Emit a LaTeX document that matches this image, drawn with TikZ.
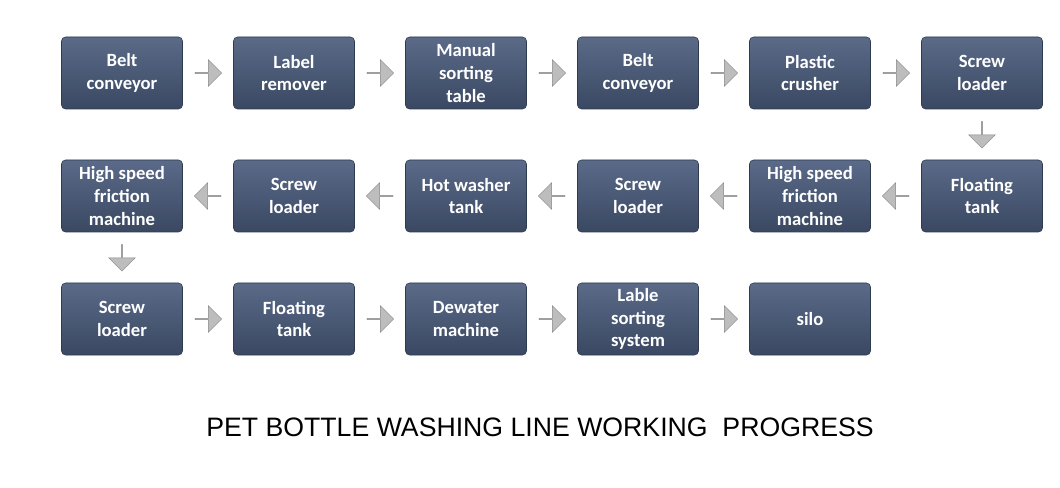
\documentclass[tikz,border=0pt]{standalone}
\usepackage{fontspec}
\setmainfont{Carlito}
\newfontfamily\titlefont{Liberation Sans}
\usetikzlibrary{shapes.arrows}
\definecolor{boxtop}{HTML}{5A6A88}
\definecolor{boxbot}{HTML}{3A4862}
\definecolor{arr}{HTML}{BDBDBD}
\tikzset{
 stepbox/.style={rounded corners=3pt, minimum width=121*0.75pt, minimum height=72*0.75pt,
   top color=boxtop, bottom color=boxbot, draw=boxbot!80!black, text=white,
   font=\bfseries\fontsize{14}{17}\selectfont, align=center, inner sep=1pt},
 flow/.style={single arrow, fill=arr, draw=arr!70!black, line width=0.3pt, minimum height=20pt, minimum width=20pt, single arrow head extend=3pt, inner sep=0pt}
}
\begin{document}
\begin{tikzpicture}[x=0.75pt,y=-0.75pt]
\useasboundingbox (0,0) rectangle (1060,488);
\foreach \n/\x/\y/\t in {a/122/73/{Belt\\conveyor}, b/294/73/{Label\\remover}, c/466/73/{Manual\\sorting\\table}, d/638/73/{Belt\\conveyor}, e/810/73/{Plastic\\crusher}, f/982/73/{Screw\\loader},
 g/982/196/{Floating\\tank}, h/810/196/{High speed\\friction\\machine}, i/638/196/{Screw\\loader}, j/466/196/{Hot washer\\tank}, k/294/196/{Screw\\loader}, l/122/196/{High speed\\friction\\machine},
 m/122/319/{Screw\\loader}, n/294/319/{Floating\\tank}, o/466/319/{Dewater\\machine}, p/638/319/{Lable\\sorting\\system}, q/810/319/{silo}}
  \node[stepbox] (\n) at (\x,\y) {\t};
\foreach \u/\v in {a/b,b/c,c/d,d/e,e/f,m/n,n/o,o/p,p/q}
  \path (\u.east) -- node[flow]{} (\v.west);
\foreach \u/\v in {g/h,h/i,i/j,j/k,k/l}
  \path (\u.west) -- node[flow, shape border rotate=180]{} (\v.east);
\path (f.south) -- node[flow, shape border rotate=270]{} (g.north);
\path (l.south) -- node[flow, shape border rotate=270]{} (m.north);
\node[font=\titlefont\fontsize{20}{24}\selectfont] (title) at (540,427) {PET BOTTLE WASHING LINE WORKING\ \ PROGRESS};
\end{tikzpicture}
\end{document}
